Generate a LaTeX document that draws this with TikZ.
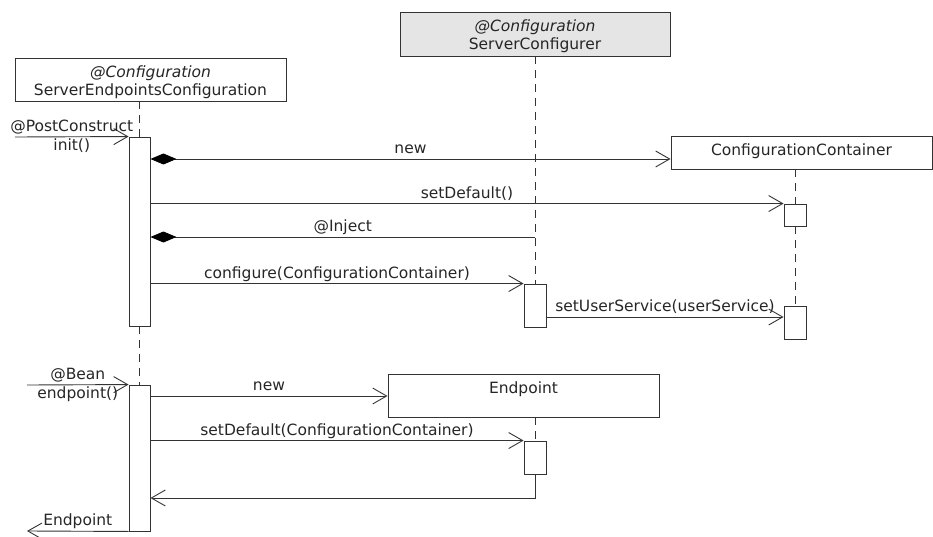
\documentclass[tikz,border=0pt]{standalone}
\usepackage{fontspec}
\setmainfont{DejaVu Sans}
\usetikzlibrary{arrows.meta, calc}

\begin{document}
\begin{tikzpicture}[x=1pt, y=-1pt,
font=\fontsize{15.5}{18}\selectfont,
every node/.style={text=black!85},
line/.style={draw=black!80, line width=0.9pt},
obj/.style={line, rectangle, fill=white, inner sep=0pt},
act/.style={line, rectangle, fill=white, inner sep=0pt, minimum width=21pt},
life/.style={line, dash pattern=on 8pt off 6pt},
title/.style={anchor=north, yshift=-8pt, inner sep=0pt, align=center},
msg/.style={line, -{Straight Barb[length=14pt, width=16pt]}},
own/.style={line, {Diamond[length=26pt, width=11pt, color=black]}-{Straight Barb[length=14pt, width=16pt]}},
txt/.style={midway, above, inner sep=5pt, text depth=0pt},
txtb/.style={midway, below, inner sep=1.5pt, text height=12pt}]
\useasboundingbox (0,0) rectangle (933,537);

% objects
\node[obj, minimum width=271pt, minimum height=43pt,
  label={[title]north:{\textit{@Configuration}\\ServerEndpointsConfiguration}}] (sec) at (150.5,79.5) {};
\node[obj, fill=black!10, minimum width=270pt, minimum height=44pt,
  label={[title]north:{\textit{@Configuration}\\ServerConfigurer}}] (scf) at (535,34) {};
\node[obj, minimum width=261pt, minimum height=33pt,
  label={[title]north:ConfigurationContainer}] (cc) at (801.5,152.5) {};
\node[obj, minimum width=271pt, minimum height=43pt,
  label={[title]north:Endpoint}] (ep) at (523.5,395.5) {};

% activations
\node[act, minimum height=189pt] (a1) at (139.5,231.5) {};
\node[act, minimum height=146pt] (a2) at (139.5,458) {};
\node[act, minimum width=22pt, minimum height=22pt] (c1) at (795,215) {};
\node[act, minimum width=22pt, minimum height=33pt] (c2) at (795,322.5) {};
\node[act, minimum width=22pt, minimum height=43pt] (s1) at (535,305.5) {};
\node[act, minimum width=22pt, minimum height=33pt] (e1) at (535,457.5) {};

% lifelines
\draw[life] (a1.north |- sec.south) -- (a1.north);
\draw[life] (a1.south) -- (a2.north);
\draw[life] (scf.south) -- (s1.north);
\draw[life] (c1.north |- cc.south) -- (c1.north);
\draw[life] (c1.south) -- (c2.north);
\draw[life] (e1.north |- ep.south) -- (e1.north);

\coordinate (in1) at (15,137);
\coordinate (in2) at (27,385);
\coordinate (out) at (27,531);
\coordinate (y1) at (0,159);
\coordinate (y2) at (0,237);
\coordinate (y3) at (0,317);
\coordinate (y4) at (0,396);
\coordinate (y5) at (0,498);

% messages
\draw[msg] (in1) -- (a1.north west) node[txt]{@PostConstruct} node[txtb]{init()};
\draw[own] (a1.east |- y1) -- (cc.west |- y1) node[txt]{new};
\draw[msg] (a1.east |- c1.north) -- (c1.north west) node[txt]{setDefault()};
\draw[line, -{Diamond[length=26pt, width=11pt, color=black]}] (s1.north |- y2) -- (a1.east |- y2) node[txt]{@Inject};
\draw[msg] (a1.east |- s1.north) -- (s1.north west) node[txt]{configure(ConfigurationContainer)};
\draw[msg] (s1.east |- y3) -- (c2.west |- y3) node[txt]{setUserService(userService)};

\draw[msg] (in2) -- (a2.north west) node[txt]{@Bean} node[txtb]{endpoint()};
\draw[msg] (a2.east |- y4) -- (ep.west |- y4) node[txt]{new};
\draw[msg] (a2.east |- e1.north) -- (e1.north west) node[txt]{setDefault(ConfigurationContainer)};
\draw[msg] (e1.south) |- (a2.east |- y5);
\draw[msg] (a2.south west) -- (out) node[txt]{Endpoint};

\end{tikzpicture}
\end{document}
